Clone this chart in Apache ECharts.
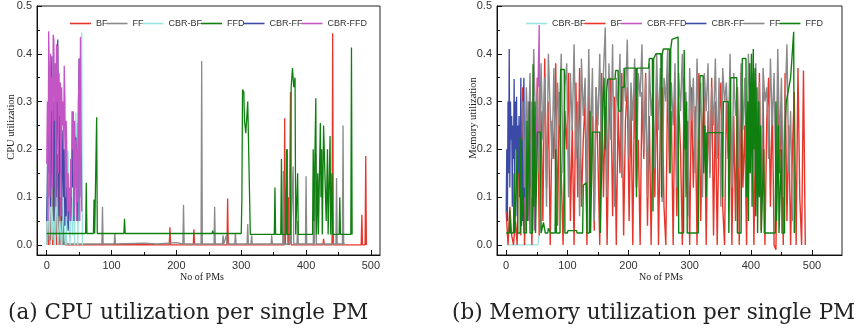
<!DOCTYPE html>
<html><head><meta charset="utf-8">
<script src="https://cdn.jsdelivr.net/npm/echarts@6/dist/echarts.min.js"></script>
<style>html,body{margin:0;padding:0;background:#fff}#c{width:857px;height:333px}</style>
</head><body><div id="c"></div>
<script>
// ---------- tick labels ----------
const xTicks = [0, 100, 200, 300, 400, 500];
const xMinor = [50, 150, 250, 350, 450];
const yTicks = [0, 0.1, 0.2, 0.3, 0.4, 0.5];
const yMinor = [0.05, 0.15, 0.25, 0.35, 0.45];
const seriesNamesCPU = ['BF', 'FF', 'CBR-BF', 'FFD', 'CBR-FF', 'CBR-FFD'];
const seriesNamesMem = ['CBR-BF', 'BF', 'CBR-FFD', 'CBR-FF', 'FF', 'FFD'];

// ---------- (a) CPU utilization : [PM index, utilization] ----------
const cpuBF = [[0,0.0],[2,0.05],[3,0.0],[5,0.15],[6,0.01],[8,0.2],[9,0.0],[11,0.12],[12,0.03],[14,0.245],[15,0.0],[16,0.19],[17,0.02],[18,0.19],[19,0.0],[21,0.1],[22,0.0],[25,0.06],[26,0.0],[28,0.015],[29,0.0],
  [120,0.001],[189,0.0],[190,0.037],[191,0.0],[226,0.0],[227,0.033],[228,0.0],[278,0.0],[279,0.097],[280,0.0],[366,0.0],[367,0.265],[368,0.0],[370,0.0],[371,0.2],[372,0.0],[373,0.1],[374,0.0],[375,0.0],[376,0.32],[377,0.0],
  [426,0.0],[427,0.013],[428,0.0],[440,0.0],[441,0.443],[442,0.0],[485,0.0],[486,0.063],[487,0.0],[491,0.0],[492,0.186],[493,0.0]];
const cpuFF = [[0,0.0],[1,0.1],[2,0.01],[4,0.2],[5,0.0],[7,0.25],[8,0.05],[10,0.22],[11,0.0],[13,0.25],[14,0.02],[16,0.15],[17,0.0],[19,0.1],[20,0.0],[23,0.08],[24,0.0],[26,0.03],[27,0.0],[30,0.02],[31,0.002],
  [85,0.002],[86,0.08],[87,0.002],[104,0.002],[105,0.025],[106,0.002],[150,0.004],[170,0.002],[200,0.005],[210,0.002],[211,0.084],[212,0.002],[238,0.002],[239,0.385],[240,0.002],[258,0.002],[259,0.08],[260,0.002],
  [271,0.002],[272,0.02],[273,0.002],[276,0.002],[277,0.02],[278,0.002],[290,0.002],[291,0.025],[292,0.002],[309,0.002],[310,0.044],[311,0.002],[315,0.002],[316,0.02],[317,0.002],[346,0.002],[347,0.02],[348,0.002],
  [364,0.002],[365,0.155],[366,0.002],[374,0.002],[375,0.14],[376,0.002],[379,0.002],[380,0.164],[381,0.002],[386,0.002],[387,0.05],[388,0.002],[399,0.002],[400,0.144],[401,0.002],[411,0.002],[412,0.1],[413,0.002],
  [414,0.002],[415,0.19],[416,0.002],[446,0.002],[447,0.14],[448,0.002],[456,0.002],[457,0.25],[458,0.002],[460,0.002]];
const cpuCBRBF = [[0,0.0],[2,0.1],[4,0.02],[6,0.15],[8,0.01],[10,0.08],[12,0.0],[15,0.12],[17,0.0],[20,0.05],[23,0.0],[26,0.1],[28,0.01],[30,0.0],[33,0.197],[34,0.05],[36,0.0],[38,0.12],[40,0.02],[42,0.2],[43,0.0],[45,0.277],[46,0.1],[47,0.255],[48,0.0],[50,0.15],[52,0.3],[54,0.445],[55,0.0]];
const cpuFFD = [[0,0.024],[60,0.024],[61,0.13],[62,0.024],[72,0.024],[73,0.095],[74,0.024],[76,0.024],[77,0.267],[78,0.024],[119,0.024],[120,0.055],[121,0.024],[255,0.024],[256,0.03],[257,0.024],
  [300,0.024],[301,0.1],[302,0.325],[304,0.32],[305,0.26],[307,0.234],[308,0.234],[310,0.3],[313,0.3],[314,0.022],[351,0.022],[352,0.12],[353,0.022],[361,0.022],[362,0.18],[363,0.022],[369,0.022],[370,0.2],[371,0.022],
  [376,0.022],[377,0.33],[379,0.37],[381,0.33],[383,0.35],[384,0.022],[386,0.022],[387,0.15],[388,0.022],[410,0.022],[411,0.2],[412,0.05],[415,0.307],[416,0.022],[418,0.15],[419,0.022],[422,0.255],[423,0.1],[424,0.2],[425,0.022],
  [427,0.25],[430,0.25],[431,0.05],[433,0.2],[434,0.022],[437,0.228],[438,0.022],[440,0.15],[441,0.022],[451,0.022],[452,0.1],[453,0.022],[469,0.022],[470,0.413],[471,0.022]];
const cpuCBRFF = [[0,0.05],[2,0.25],[3,0.15],[5,0.35],[6,0.08],[7,0.33],[8,0.395],[9,0.12],[10,0.3],[11,0.05],[12,0.28],[13,0.2],[14,0.35],[15,0.1],[16,0.25],[17,0.43],[18,0.43],[19,0.06],[20,0.3],[21,0.15],[22,0.22],[23,0.05],[24,0.18],[25,0.24],[26,0.1],[27,0.2],[28,0.04],[29,0.15],[30,0.06],[31,0.12],[33,0.03],[35,0.1],[37,0.05],[39,0.2],[40,0.12],[41,0.233],[42,0.05],[43,0.23],[44,0.15],[45,0.225],[46,0.08],[47,0.2],[48,0.05],[49,0.3],[50,0.39],[51,0.1],[52,0.2]];
const cpuCBRFFD = [[0,0.17],[1,0.3],[2,0.05],[3,0.447],[4,0.36],[5,0.1],[6,0.4],[7,0.28],[8,0.35],[9,0.12],[10,0.44],[11,0.43],[12,0.26],[13,0.38],[14,0.08],[15,0.42],[16,0.3],[17,0.415],[18,0.15],[19,0.36],[20,0.27],[21,0.34],[22,0.06],[23,0.33],[24,0.25],[25,0.3],[26,0.2],[27,0.375],[28,0.31],[29,0.1],[30,0.26],[31,0.2],[32,0.05],[33,0.15],[34,0.07],[35,0.12],[36,0.05],[37,0.18],[38,0.1],[39,0.28],[40,0.2],[41,0.28],[42,0.06],[43,0.26],[44,0.12],[45,0.22],[46,0.05],[47,0.2],[48,0.09],[49,0.3],[50,0.39],[51,0.05],[52,0.435],[53,0.25],[54,0.07]];

// ---------- (b) Memory utilization ----------
const memStep = 3;
const memBFStart = 0;
const memBF = [0.07,0.0,0.08,0.02,0.0,0.05,0.0,0.25,0.02,0.33,0.0,0.18,0.06,0.3,0.0,0.22,0.1,0.35,0.02,0.28,
  0.05,0.39,0.12,0.3,0.0,0.26,0.18,0.38,0.04,0.32,0.15,0.0,0.28,0.2,0.36,0.05,0.25,0.0,0.34,0.1,
  0.37,0.08,0.22,0.3,0.0,0.35,0.12,0.27,0.03,0.33,0.18,0.0,0.36,0.1,0.29,0.0,0.24,0.35,0.06,0.31,
  0.0,0.28,0.15,0.36,0.02,0.26,0.33,0.05,0.3,0.0,0.35,0.12,0.22,0.0,0.32,0.18,0.36,0.04,0.27,0.0,
  0.3,0.1,0.35,0.0,0.25,0.33,0.08,0.0,0.36,0.15,0.28,0.0,0.34,0.06,0.3,0.2,0.0,0.35,0.1,0.26,
  0.0,0.33,0.12,0.29,0.0,0.36,0.05,0.24,0.32,0.0,0.28,0.15,0.35,0.02,0.3,0.0,0.26,0.34,0.08,0.0,
  0.31,0.18,0.35,0.0,0.27,0.05,0.33,0.0,0.36,0.12,0.25,0.0,0.3,0.2,0.34,0.0,0.28,0.1,0.36,0.03,
  0.32,0.0,0.26,0.35,0.08,0.3,0.0,-0.01,0.33,0.15,0.28,0.0,0.36,0.05,0.25,0.0,0.2,0.32,0.0,0.37,
  0.1,0.0,0.365,0.0];
const memFFStart = 27;
const memFF = [0.3,0.12,0.33,0.2,0.36,0.1,0.41,0.25,0.32,0.15,0.38,0.22,0.35,0.08,0.4,0.28,0.18,0.37,0.12,0.34,
  0.25,0.4,0.15,0.33,0.38,0.1,0.36,0.24,0.42,0.18,0.3,0.06,0.39,0.27,0.35,0.12,0.41,0.2,0.37,0.05,
  0.33,0.25,0.4,0.15,0.36,0.455,0.1,0.38,0.22,0.42,0.08,0.35,0.28,0.4,0.14,0.37,0.3,0.43,0.18,0.34,
  0.26,0.39,0.12,0.36,0.31,0.42,0.2,0.35,0.1,0.38,0.27,0.33,0.16,0.4,0.24,0.37,0.09,0.35,0.3,0.41,
  0.18,0.34,0.25,0.38,0.12,0.36,0.28,0.4,0.2,0.32,0.06,0.37,0.26,0.35,0.15,0.39,0.22,0.34,0.1,0.36,
  0.28,0.38,0.14,0.33,0.25,0.39,0.18,0.35,0.08,0.37,0.3,0.34,0.2,0.4,0.12,0.36,0.27,0.33,0.16,0.38,
  0.24,0.35,0.1,0.4,0.29,0.36,0.15,0.38,0.22,0.34,0.07,0.37,0.3,0.33,0.18,0.39,0.25,0.36,0.12,0.41,
  0.2,0.35,0.1,0.3,0.42,0.15,0.28,0.05];
const memFFD = [[0,0.025],[5,0.025],[6,0.073],[7,0.025],[12,0.025],[13,0.15],[14,0.025],[17,0.025],[18,0.2],[19,0.025],[23,0.025],[24,0.225],[25,0.04],[28,0.12],[29,0.025],[33,0.025],[34,0.26],[35,0.05],[38,0.3],[39,0.025],
  [43,0.025],[44,0.378],[45,0.08],[47,0.3],[48,0.025],[50,0.025],[51,0.236],[56,0.236],[57,0.025],[60,0.025],[61,0.047],[63,0.047],[64,0.025],[68,0.025],[69,0.035],[72,0.035],[73,0.025],[80,0.025],[81,0.2],[82,0.025],
  [88,0.025],[89,0.367],[95,0.367],[96,0.025],[100,0.025],[101,0.03],[115,0.03],[116,0.025],[125,0.025],[126,0.125],[131,0.13],[132,0.025],[136,0.025],[137,0.28],[138,0.025],[140,0.025],[141,0.236],[153,0.236],[154,0.025],
  [157,0.025],[158,0.3],[160,0.35],[162,0.2],[164,0.32],[166,0.347],[178,0.347],[179,0.365],[183,0.365],[184,0.28],[188,0.28],[189,0.33],[193,0.33],[194,0.37],[212,0.37],[213,0.1],[214,0.37],[233,0.37],[234,0.39],[239,0.39],[240,0.07],[241,0.39],
  [244,0.39],[245,0.4],[253,0.4],[254,0.1],[255,0.4],[256,0.4],[257,0.41],[267,0.41],[268,0.15],[269,0.41],[270,0.41],[271,0.43],[281,0.435],[282,0.025],[290,0.025],[291,0.408],[293,0.2],[295,0.3],[296,0.025],[314,0.025],
  [315,0.2],[317,0.354],[322,0.354],[323,0.15],[325,0.25],[327,0.1],[328,0.235],[353,0.235],[354,0.1],[355,0.3],[363,0.3],[364,0.025],[366,0.025],[367,0.35],[377,0.35],[378,0.025],[384,0.025],[385,0.2],[386,0.39],[392,0.39],
  [393,0.1],[395,0.3],[396,0.05],[398,0.38],[399,0.15],[401,0.4],[402,0.08],[404,0.41],[405,0.2],[407,0.37],[408,0.06],[410,0.33],[411,0.025],[413,0.3],[414,0.1],[416,0.25],[417,0.025],[420,0.025],[421,0.2],[422,0.025],
  [440,0.025],[441,0.3],[442,0.05],[445,0.25],[446,0.025],[450,0.2],[451,0.025],[455,0.025],[456,0.25],[458,0.3],[465,0.35],[470,0.446],[471,0.025]];
const memCBRFF = [[0,0.07],[1,0.2],[2,0.05],[3,0.3],[4,0.15],[5,0.41],[6,0.12],[7,0.3],[8,0.22],[9,0.27],[10,0.08],[11,0.25],[12,0.18],[13,0.347],[14,0.1],[15,0.3],[16,0.2],[17,0.31],[18,0.06],[19,0.25],[20,0.15],[21,0.27],[22,0.1],[23,0.2],[24,0.35],[25,0.12],[26,0.22],[27,0.05],[28,0.3],[29,0.35],[30,0.1],[31,0.2]];
const memCBRFFD = [[28,0.05],[30,0.2],[31,0.03],[33,0.25],[34,0.1],[36,0.3],[37,0.05],[39,0.22],[40,0.12],[42,0.3],[43,0.04],[45,0.2],[46,0.03],[48,0.28],[49,0.1],[51,0.35],[52,0.33],[54,0.46],[55,0.03]];
const memCBRBF = [[1,0.0],[52,0.0],[53,0.018],[55,0.02]];

// ---------- styling ----------
const colors = {'BF':'#e8352b','FF':'#8a8a8a','CBR-BF':'#9be5df','FFD':'#0f800f','CBR-FF':'#3b4aa6','CBR-FFD':'#c455c4'};
const tickFont = 'Liberation Sans, Arial, sans-serif';
const serif = 'Liberation Serif, Times New Roman, serif';

function toPairs(start, arr){ return arr.map((v,i)=>[start + i*memStep, v]); }

function axesFor(g, xmax){
  const xs = [
    {type:'value', gridIndex:g, min:-15, max:xmax, position:'bottom',
     axisLine:{show:true,onZero:false,lineStyle:{color:'#111',width:1}},
     axisTick:{show:true,inside:true,length:5,customValues:xTicks,lineStyle:{color:'#111'}},
     axisLabel:{show:true,customValues:xTicks,fontSize:11,fontFamily:tickFont,color:'#333',margin:5},
     splitLine:{show:false}},
    {type:'value', gridIndex:g, min:-15, max:xmax, position:'bottom', offset:0,
     axisLine:{show:false,onZero:false},
     axisTick:{show:true,inside:true,length:3,customValues:xMinor,lineStyle:{color:'#111'}},
     axisLabel:{show:false}, splitLine:{show:false}}
  ];
  const ys = [
    {type:'value', gridIndex:g, min:-0.021, max:0.5, position:'left',
     axisLine:{show:true,onZero:false,lineStyle:{color:'#111',width:1}},
     axisTick:{show:true,inside:true,length:5,customValues:yTicks,lineStyle:{color:'#111'}},
     axisLabel:{show:true,customValues:yTicks,fontSize:11,fontFamily:tickFont,color:'#333',margin:5,formatter:v=>v.toFixed(1)},
     splitLine:{show:false}},
    {type:'value', gridIndex:g, min:-0.021, max:0.5, position:'left', offset:0,
     axisLine:{show:false,onZero:false},
     axisTick:{show:true,inside:true,length:3,customValues:yMinor,lineStyle:{color:'#111'}},
     axisLabel:{show:false}, splitLine:{show:false}}
  ];
  return {xs, ys};
}
const a0 = axesFor(0, 514), a1 = axesFor(1, 549);

function line(name, data, g, w){
  return {type:'line', name, data, xAxisIndex:g*2, yAxisIndex:g*2, showSymbol:false, symbol:'none',
    color:colors[name], lineStyle:{width:w||1.3, color:colors[name]}, animation:false, silent:true, sampling:null, z:2};
}

const option = {
  animation:false,
  backgroundColor:'#fff',
  grid:[
    {left:37, right:477, top:6, bottom:78, show:true, borderColor:'#222', borderWidth:1},
    {left:497, right:15, top:6, bottom:78, show:true, borderColor:'#222', borderWidth:1}
  ],
  xAxis:[...a0.xs, ...a1.xs],
  yAxis:[...a0.ys, ...a1.ys],
  legend:[
    {data:seriesNamesCPU, left:65, top:14, icon:'rect', itemWidth:21, itemHeight:1.6, itemGap:-1,
     textStyle:{fontSize:9, fontFamily:tickFont, color:'#333'}, selectedMode:false},
    {data:seriesNamesMem, left:521, top:14, icon:'rect', itemWidth:21, itemHeight:1.6, itemGap:-1,
     textStyle:{fontSize:9, fontFamily:tickFont, color:'#333'}, selectedMode:false}
  ],
  series:[
    line('BF', cpuBF, 0), line('FF', cpuFF, 0), line('CBR-BF', cpuCBRBF, 0), line('FFD', cpuFFD, 0),
    line('CBR-FF', cpuCBRFF, 0), line('CBR-FFD', cpuCBRFFD, 0),
    line('CBR-BF', memCBRBF, 1), line('BF', toPairs(memBFStart, memBF), 1, 1.4), line('CBR-FFD', memCBRFFD, 1),
    line('CBR-FF', memCBRFF, 1), line('FF', toPairs(memFFStart, memFF), 1, 1.4), line('FFD', memFFD, 1, 1.4)
  ],
  graphic:[
    {type:'text', x:11, y:127, rotation:Math.PI/2, style:{text:'CPU utilization', font:'10.5px '+serif, fill:'#222', align:'center', verticalAlign:'middle'}},
    {type:'text', x:473, y:118, rotation:Math.PI/2, style:{text:'Memory utilization', font:'10.5px '+serif, fill:'#222', align:'center', verticalAlign:'middle'}},
    {type:'text', x:202, y:277, style:{text:'No of PMs', font:'10px '+serif, fill:'#222', align:'center', verticalAlign:'middle'}},
    {type:'text', x:661, y:277, style:{text:'No of PMs', font:'10px '+serif, fill:'#222', align:'center', verticalAlign:'middle'}},
    {type:'text', x:8, y:313, style:{text:'(a) CPU utilization per single PM', font:'21.5px DejaVu Serif, serif', fill:'#222', align:'left', verticalAlign:'middle'}},
    {type:'text', x:452, y:313, style:{text:'(b) Memory utilization per single PM', font:'21.5px DejaVu Serif, serif', fill:'#222', align:'left', verticalAlign:'middle'}}
  ]
};
const chart = echarts.init(document.getElementById('c'), null, {renderer:'canvas'});
chart.setOption(option);
</script></body></html>
